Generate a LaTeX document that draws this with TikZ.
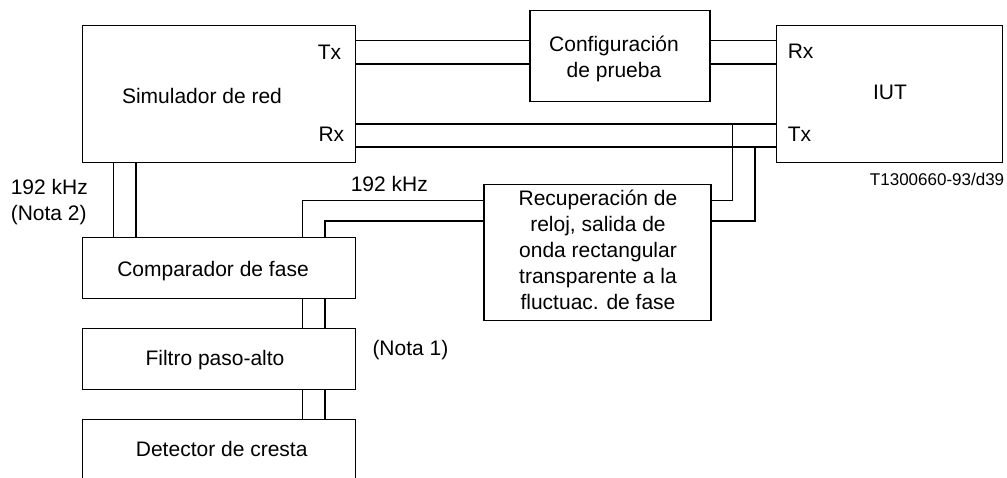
\documentclass[tikz,border=0pt]{standalone}
\usepackage{fontspec}
\setmainfont{Liberation Sans}
\begin{document}
\begin{tikzpicture}[x=0.5pt,y=-0.5pt,line width=0.8pt,
  box/.style={draw,line width=0.6pt,inner sep=0pt,minimum width=136.3pt},
  txt/.style={inner sep=0pt,font=\fontsize{10.5}{13.05}\selectfont,align=center},
  idtxt/.style={inner sep=0pt,font=\fontsize{8.5}{10}\selectfont}]
\useasboundingbox (0,0) rectangle (1007,477);
% boxes
\node[box,minimum height=68.3pt] (sim) at (219,94) {};
\node[box,minimum width=112.8pt,minimum height=68.3pt] (iut) at (889.5,94) {};
\node[box,minimum width=90pt,minimum height=45.4pt] (cfg) at (620,55.9) {};
\node[box,minimum width=113.5pt,minimum height=68pt] (rec) at (597.5,252.5) {};
\node[box,minimum height=30.4pt] (cmp) at (219,267.9) {};
\node[box,minimum height=30.3pt] (flt) at (219,359) {};
\node[box,minimum height=30.3pt] (det) at (219,450) {};
% texts
\node[txt,anchor=base] (simt) at (202,103) {Simulador de red};
\node[txt,anchor=base east] (simtx) at (342,59.3) {Tx};
\node[txt,anchor=base east] (simrx) at (345,141.7) {Rx};
\node[txt,anchor=base west] (iutrx) at (787,58.5) {Rx};
\node[txt,anchor=base west] (iuttx) at (787,141.7) {Tx};
\node[txt,anchor=base] (iutt) at (890,99.3) {IUT};
\node[idtxt,anchor=base east] (fig) at (1005,185) {T1300660-93/d39};
\node[txt] (cfgt) at (614,58.5) {Configuración\\de prueba};
\node[txt] (rect) at (598,249.6) {Recuperación de\\reloj, salida de\\onda rectangular\\transparente a la\\fluctuac. de fase};
\node[txt,anchor=base] (cmpt) at (213,276.7) {Comparador de fase};
\node[txt,anchor=base] (fltt) at (215,365) {Filtro paso-alto};
\node[txt,anchor=base] (dett) at (221.7,456) {Detector de cresta};
\node[txt,anchor=base west] (nota1) at (371.7,355) {(Nota 1)};
\node[txt,anchor=base west] (khz) at (350,191.7) {192 kHz};
\node[txt,align=left,anchor=west] (khz2) at (10,201.7) {192 kHz\\(Nota 2)};
% coordinates
\coordinate (h1) at (0,40.5);
\coordinate (h2) at (0,63.8);
\coordinate (h3) at (0,124);
\coordinate (h4) at (0,146.7);
\coordinate (h5) at (0,200.3);
\coordinate (h6) at (0,221);
\coordinate (v1) at (113.3,0);
\coordinate (v2) at (135.7,0);
\coordinate (v3) at (302.3,0);
\coordinate (v4) at (324.7,0);
\coordinate (v5) at (732.3,0);
\coordinate (v6) at (755,0);
% connectors
\draw (sim.east |- h1) -- (cfg.west |- h1);
\draw (cfg.east |- h1) -- (iut.west |- h1);
\draw (sim.east |- h2) -- (cfg.west |- h2);
\draw (cfg.east |- h2) -- (iut.west |- h2);
\draw (sim.east |- h3) -- (iut.west |- h3);
\draw (sim.east |- h4) -- (iut.west |- h4);
\draw (v5 |- h3) -- (v5 |- h5) -- (rec.east |- h5);
\draw (v6 |- h4) -- (v6 |- h6) -- (rec.east |- h6);
\draw (rec.west |- h5) -- (v3 |- h5) -- (v3 |- cmp.north);
\draw (rec.west |- h6) -- (v4 |- h6) -- (v4 |- cmp.north);
\draw (v1 |- sim.south) -- (v1 |- cmp.north);
\draw (v2 |- sim.south) -- (v2 |- cmp.north);
\draw (v3 |- cmp.south) -- (v3 |- flt.north);
\draw (v4 |- cmp.south) -- (v4 |- flt.north);
\draw (v3 |- flt.south) -- (v3 |- det.north);
\draw (v4 |- flt.south) -- (v4 |- det.north);
\end{tikzpicture}
\end{document}
